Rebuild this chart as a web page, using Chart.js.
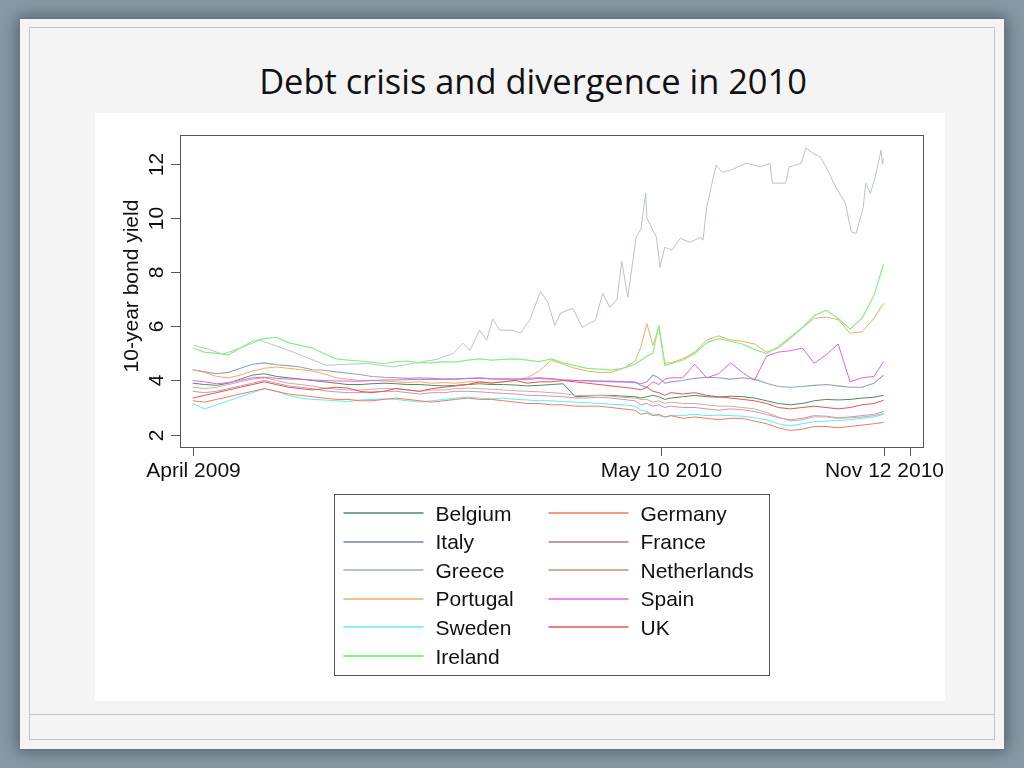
<!DOCTYPE html>
<html>
<head>
<meta charset="utf-8">
<script src="https://cdn.jsdelivr.net/npm/chart.js@4.4.1/dist/chart.umd.min.js"></script>
<style>
  html, body { margin: 0; padding: 0; }
  body { width: 1024px; height: 768px; background: #8899a5; overflow: hidden; position: relative; }
  #slide { position: absolute; left: 20px; top: 19px; width: 984px; height: 730px; background: #f4f4f4;
           box-shadow: 0 0 14px 3px rgba(40,55,65,0.55); }
  #inner { position: absolute; left: 29px; top: 27px; width: 966px; height: 713px; box-sizing: border-box;
           border: 1px solid #c6c6c6; }
  #footline { position: absolute; left: 29px; top: 714px; width: 966px; height: 0; border-top: 1px solid #c6c6c6; }
  #title { position: absolute; left: 183px; top: 64px; width: 700px; text-align: center;
           font-family: "Open Sans", "Noto Sans", sans-serif; font-size: 34.4px; line-height: 34px; color: #111; white-space: nowrap; }
  #plotbg { position: absolute; left: 95px; top: 113px; width: 850px; height: 588px; background: #ffffff; }
  #c { position: absolute; left: 0; top: 0; }
</style>
</head>
<body>
<div id="slide"></div>
<div id="inner"></div>
<div id="footline"></div>
<div id="title">Debt crisis and divergence in 2010</div>
<div id="plotbg"><canvas id="c" width="850" height="588"></canvas></div>
<script>
// ---- DATA (days counted from the "April 2009" tick) ----
const days = [0,10,20,30,40,50,60,70,80,90,100,110,120,130,140,150,160,170,180,190,200,210,220,230,240,250,260,270,280,290,300,310,320,330,340,350,360,370,375,380,385,390,395,400,410,420,430,440,450,460,470,480,490,500,510,520,530,540,550,560,570,578];

const belgium = [3.9,3.85,3.82,3.9,4.05,4.2,4.25,4.15,4.1,4.05,4.0,3.95,3.9,3.85,3.85,3.88,3.9,3.88,3.85,3.85,3.82,3.8,3.82,3.85,3.88,3.85,3.85,3.83,3.8,3.82,3.85,3.88,3.4,3.42,3.45,3.45,3.42,3.4,
  3.35,3.4,3.45,3.4,3.3,
  3.35,3.4,3.45,3.4,3.38,3.42,3.4,3.35,3.25,3.15,3.1,3.15,3.25,3.3,3.28,3.3,3.35,3.38,
  3.45];
const italy = [4.4,4.32,4.25,4.3,4.45,4.6,4.65,4.58,4.55,4.5,4.4,4.38,4.32,4.27,4.22,4.15,4.12,4.1,4.08,4.1,4.08,4.05,4.05,4.08,4.1,4.06,4.05,4.05,4.03,4.08,4.05,4.02,4.0,4.0,3.98,3.95,3.95,3.92,
  3.88,3.95,4.2,4.1,3.9,
  3.95,4.0,4.08,4.12,4.1,4.05,4.1,4.05,3.9,3.78,3.75,3.78,3.82,3.85,3.8,3.75,3.75,3.9,
  4.2];
const portugal = [4.4,4.3,4.15,4.1,4.2,4.35,4.45,4.5,4.45,4.4,4.35,4.25,4.1,4.05,4.0,4.0,3.98,3.95,3.92,3.95,3.9,3.92,3.9,3.95,3.95,3.92,3.95,4.0,4.1,4.35,4.75,4.6,4.45,4.35,4.3,4.3,4.45,4.7,
  5.25,6.1,5.3,5.95,4.65,
  4.65,4.8,5.05,5.5,5.65,5.5,5.45,5.35,5.05,5.2,5.55,5.95,6.3,6.35,6.25,5.75,5.8,6.3,
  6.85];
const sweden = [3.15,2.95,3.1,3.25,3.4,3.55,3.7,3.6,3.45,3.35,3.3,3.28,3.25,3.22,3.28,3.3,3.32,3.3,3.25,3.2,3.25,3.3,3.35,3.38,3.35,3.32,3.35,3.3,3.28,3.25,3.25,3.22,3.2,3.18,3.15,3.12,3.1,3.05,
  2.9,2.85,2.75,2.7,2.65,
  2.7,2.7,2.75,2.7,2.72,2.7,2.68,2.62,2.55,2.4,2.32,2.4,2.48,2.5,2.52,2.55,2.6,2.65,
  2.75];
const ireland = [5.2,5.05,5.0,4.95,5.2,5.45,5.55,5.6,5.4,5.3,5.2,5.0,4.8,4.75,4.72,4.68,4.62,4.7,4.72,4.65,4.65,4.7,4.68,4.75,4.8,4.75,4.78,4.8,4.75,4.7,4.8,4.65,4.55,4.45,4.42,4.38,4.45,4.6,
  4.75,4.9,5.0,6.05,4.55,
  4.62,4.75,5.0,5.4,5.55,5.45,5.35,5.15,5.0,5.25,5.6,5.95,6.4,6.6,6.3,5.9,6.3,7.15,
  8.3];
const germany = [3.25,3.2,3.3,3.4,3.5,3.6,3.7,3.6,3.5,3.45,3.4,3.35,3.3,3.3,3.25,3.25,3.3,3.35,3.3,3.25,3.2,3.25,3.3,3.35,3.3,3.3,3.25,3.2,3.15,3.15,3.1,3.1,3.05,3.05,3.05,3.0,2.95,2.9,
  2.75,2.8,2.7,2.75,2.65,
  2.7,2.6,2.65,2.6,2.55,2.6,2.6,2.5,2.4,2.25,2.15,2.2,2.3,2.3,2.25,2.3,2.35,2.4,
  2.45];
const france = [3.6,3.55,3.6,3.7,3.8,3.9,4.0,3.9,3.8,3.75,3.7,3.62,3.58,3.55,3.55,3.58,3.6,3.6,3.55,3.5,3.55,3.55,3.6,3.6,3.58,3.55,3.52,3.5,3.45,3.45,3.42,3.4,3.35,3.35,3.38,3.35,3.3,3.25,
  3.1,3.15,3.05,3.1,3.0,
  3.05,3.0,3.0,2.95,2.9,2.95,2.92,2.85,2.75,2.62,2.55,2.6,2.7,2.68,2.62,2.65,2.7,2.75,
  2.85];
const netherlands = [3.75,3.7,3.75,3.85,3.95,4.05,4.1,4.0,3.9,3.85,3.8,3.72,3.68,3.65,3.65,3.68,3.7,3.7,3.65,3.6,3.65,3.65,3.7,3.72,3.7,3.68,3.65,3.62,3.6,3.58,3.55,3.52,3.45,3.45,3.45,3.42,3.38,3.35,
  3.3,3.3,3.2,3.25,3.15,
  3.2,3.15,3.15,3.1,3.05,3.05,3.0,2.95,2.82,2.65,2.5,2.55,2.65,2.65,2.6,2.62,2.65,2.7,
  2.78];
const spain = [4.0,3.95,3.88,3.92,4.0,4.1,4.12,4.08,4.05,4.05,4.02,4.0,3.98,3.98,3.97,4.0,4.02,4.02,4.03,4.04,4.03,4.05,4.06,4.07,4.08,4.06,4.06,4.05,4.08,4.1,4.07,4.02,4.0,3.98,3.97,3.98,3.95,3.95,
  3.82,3.75,3.95,3.85,4.05,
  4.1,4.1,4.6,4.1,4.25,4.65,4.3,4.0,4.9,5.05,5.1,5.2,4.64,4.95,5.35,3.95,4.1,4.15,
  4.7];
const uk = [3.35,3.45,3.55,3.65,3.75,3.85,3.95,3.85,3.75,3.7,3.65,3.7,3.75,3.72,3.6,3.55,3.6,3.7,3.65,3.6,3.7,3.75,3.8,3.85,3.95,3.9,3.95,4.0,3.9,3.95,3.95,4.0,3.95,3.9,3.85,3.8,3.75,3.7,
  3.65,3.75,3.6,3.55,3.45,
  3.55,3.5,3.55,3.45,3.4,3.35,3.3,3.25,3.15,3.0,2.95,3.0,3.05,3.0,2.95,3.0,3.1,3.15,
  3.27];

const greeceDays = [1,14,25,40,56,73,87,101,112,128,146,168,184,204,218,226,232,240,246,251,257,268,274,282,291,297,303,308,318,326,337,343,349,355,359,364,371,375,379,380,388,391,395,401,408,416,425,427,430,435,438,443,450,463,475,483,485,496,499,509,513,519,525,530,538,546,551,555,561,563,567,571,576,577,578];
const greece = [5.3,5.15,4.97,5.2,5.49,5.23,5.0,4.75,4.56,4.6,4.63,4.5,4.63,4.78,5.0,5.38,5.11,5.86,5.49,6.27,5.86,5.86,5.75,6.23,7.3,6.9,6.04,6.5,6.67,5.97,6.23,7.23,6.7,7.0,8.41,7.08,9.3,9.6,10.93,10.0,9.3,8.19,8.93,8.82,9.26,9.11,9.3,9.19,10.4,11.4,11.96,11.7,11.78,12.04,11.9,12.03,11.3,11.3,11.9,12.03,12.6,12.4,12.27,11.9,11.15,10.56,9.5,9.44,10.4,11.3,10.92,11.52,12.52,12.0,12.2];

const xTickDays = [0, 392, 578, 600];
const xTickLabels = ['April 2009', 'May 10 2010', 'Nov 12 2010', ''];
const yTicks = [2, 4, 6, 8, 10, 12];
const yTitle = '10-year bond yield';

const names = ['Belgium','Italy','Greece','Portugal','Sweden','Ireland','Germany','France','Netherlands','Spain','UK'];
const colors = ['#4f8a5e','#93a4b6','#b9c4c1','#f2aa6a','#5eecf0','#86f086','#f07a5c','#c898aa','#d0ac9a','#e860e8','#e05454'];
const legendWidths = [1.4, 2.2, 1.8, 1.4, 1.4, 2.2, 1.4, 2.2, 1.8, 1.4, 1.4];
const plotWidths = [1, 1.1, 1, 1, 1, 1.2, 1, 1, 1, 1, 1];

const seriesValues = [belgium, italy, greece, portugal, sweden, ireland, germany, france, netherlands, spain, uk];

const datasets = names.map((n, i) => {
  const xs = (n === 'Greece') ? greeceDays : days;
  const ys = seriesValues[i];
  return {
    label: n,
    data: xs.map((d, k) => ({ x: d, y: ys[k] })),
    borderColor: colors[i],
    backgroundColor: colors[i],
    borderWidth: plotWidths[i],
    legendWidth: legendWidths[i],
    pointRadius: 0,
    tension: 0,
    fill: false,
    order: names.length - i
  };
});

const FONT = '21px "Liberation Sans", Arial, sans-serif';

const decor = {
  id: 'decor',
  afterDraw(chart) {
    const { ctx, chartArea: a, scales } = chart;
    const x = scales.x, y = scales.y;
    ctx.save();
    // plot box
    ctx.strokeStyle = '#555555';
    ctx.lineWidth = 1;
    ctx.strokeRect(Math.round(a.left) + 0.5, Math.round(a.top) + 0.5, Math.round(a.right - a.left), Math.round(a.bottom - a.top));
    ctx.fillStyle = '#111111';
    ctx.font = FONT;
    // x ticks
    ctx.textAlign = 'center';
    ctx.textBaseline = 'alphabetic';
    xTickDays.forEach((d, i) => {
      const px = Math.round(x.getPixelForValue(d)) + 0.5;
      ctx.beginPath();
      ctx.moveTo(px, Math.round(a.bottom));
      ctx.lineTo(px, Math.round(a.bottom) + 9);
      ctx.stroke();
      if (xTickLabels[i]) ctx.fillText(xTickLabels[i], px, a.bottom + 30);
    });
    // y ticks
    yTicks.forEach(v => {
      const py = Math.round(y.getPixelForValue(v)) + 0.5;
      ctx.beginPath();
      ctx.moveTo(Math.round(a.left), py);
      ctx.lineTo(Math.round(a.left) - 9, py);
      ctx.stroke();
      ctx.save();
      ctx.translate(a.left - 17, py);
      ctx.rotate(-Math.PI / 2);
      ctx.fillText(String(v), 0, 0);
      ctx.restore();
    });
    // y title
    ctx.save();
    ctx.translate(a.left - 42, (a.top + a.bottom) / 2 - 5);
    ctx.rotate(-Math.PI / 2);
    ctx.fillText(yTitle, 0, 0);
    ctx.restore();
    // legend
    const ds = chart.data.datasets;
    const boxW = 435, boxH = 181;
    const bx = Math.round((a.left + a.right) / 2 - boxW / 2) + 0.5;
    const by = Math.round(a.bottom + 47) + 0.5;
    ctx.strokeStyle = '#555555';
    ctx.lineWidth = 1;
    ctx.strokeRect(bx, by, boxW, boxH);
    ctx.textAlign = 'left';
    const rows = 6;
    ds.forEach((d, i) => {
      const col = Math.floor(i / rows), row = i % rows;
      const lx = bx + 9 + col * 205;
      const ly = by + 18.5 + row * 28.6;
      ctx.strokeStyle = d.borderColor;
      ctx.lineWidth = d.legendWidth;
      ctx.beginPath();
      ctx.moveTo(lx, Math.round(ly));
      ctx.lineTo(lx + 80, Math.round(ly));
      ctx.stroke();
      ctx.fillStyle = '#111111';
      ctx.fillText(d.label, lx + 92, ly + 7.5);
    });
    ctx.restore();
  }
};

new Chart(document.getElementById('c'), {
  type: 'line',
  data: { datasets },
  options: {
    responsive: false,
    animation: false,
    devicePixelRatio: 1,
    layout: { padding: { left: 85, top: 22, right: 22, bottom: 254 } },
    plugins: { legend: { display: false }, title: { display: false }, tooltip: { enabled: false } },
    scales: {
      x: { type: 'linear', min: -10.6, max: 611, display: false },
      y: { type: 'linear', min: 1.54, max: 13.08, display: false }
    },
    elements: { line: { borderJoinStyle: 'round' } }
  },
  plugins: [decor]
});
</script>
</body>
</html>
